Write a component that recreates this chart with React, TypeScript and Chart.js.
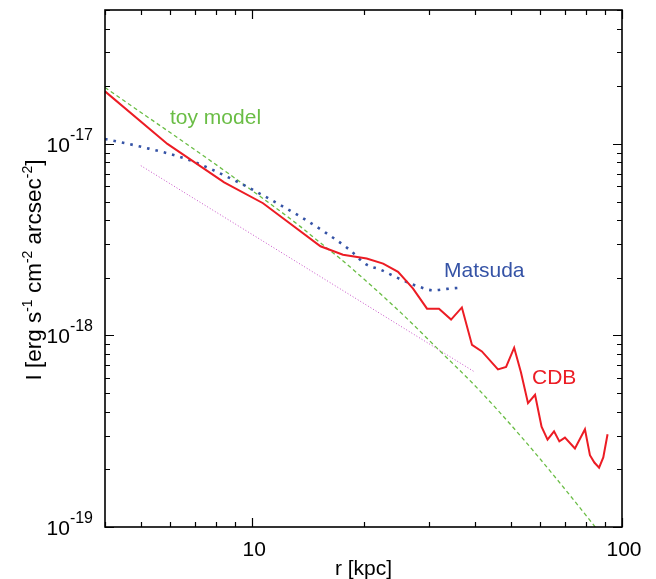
import React, { useEffect, useRef } from "react";
import { Chart, registerables } from "chart.js";
Chart.register(...registerables);

// ---- data ----
const cdbR = [4.0, 5.9, 8.4, 10.7, 15.3, 17.6, 20.4, 22.6, 24.8, 27.2, 29.7, 32.0, 34.5, 36.9, 39.3, 41.8, 46.2, 48.6, 51.1, 53.3, 55.7, 58.2, 60.6, 62.9, 65.5, 67.7, 70.1, 74.6, 79.4, 81.9, 84.2, 86.7, 89.0, 91.4];
const cdbI = [1.88e-17, 1.0e-17, 6.3e-18, 4.9e-18, 2.92e-18, 2.64e-18, 2.52e-18, 2.37e-18, 2.15e-18, 1.76e-18, 1.38e-18, 1.38e-18, 1.21e-18, 1.40e-18, 8.92e-19, 8.25e-19, 6.65e-19, 6.85e-19, 8.63e-19, 6.42e-19, 4.43e-19, 4.90e-19, 3.34e-19, 2.86e-19, 3.16e-19, 2.80e-19, 2.93e-19, 2.57e-19, 3.24e-19, 2.37e-19, 2.17e-19, 2.04e-19, 2.31e-19, 3.05e-19];

const matsudaR = [4.0, 4.98, 6.66, 9.09, 11.66, 13.48, 15.58, 18.3, 20.4, 22.18, 25.1, 28.4, 30.9, 33.6, 37.0];
const matsudaI = [1.06e-17, 9.68e-18, 8.32e-18, 6.36e-18, 4.91e-18, 4.18e-18, 3.5e-18, 2.81e-18, 2.34e-18, 2.21e-18, 1.97e-18, 1.79e-18, 1.72e-18, 1.75e-18, 1.78e-18];

const toyR = [4.0, 8.72, 13.48, 15.27, 17.29, 21.06, 25.39, 31.88, 40.5, 53.0, 66.6, 83.3, 86.0];
const toyI = [1.97e-17, 6.9e-18, 3.71e-18, 3.05e-18, 2.52e-18, 1.81e-18, 1.30e-18, 8.45e-19, 5.34e-19, 3.01e-19, 1.78e-19, 1.04e-19, 9.62e-20];

const powerR = [5.0, 40.0];
const powerI = [7.7e-18, 6.44e-19];

// ---- axes ----
const xMin = 4;
const xMax = 100;
const yMin = 1e-19;
const yMax = 5e-17;
const mantissas = [1, 2, 3, 4, 5, 6, 7, 8, 9];
const xDecades = [1, 10, 100];
const yDecades = [1e-19, 1e-18, 1e-17];
const xTickLabels = ["10", "100"];
const xTickLabelValues = [10, 100];
const yTickExponents = ["-19", "-18", "-17"];
const yTickLabelValues = [1e-19, 1e-18, 1e-17];

const FONT = '"Liberation Sans", Arial, Helvetica, sans-serif';
const RED = "#ec1c24";
const BLUE = "#3553a6";
const GREEN = "#6abd45";
const PINK = "#c750c7";

type Part = { t: string; sup?: boolean };

function drawRich(ctx: CanvasRenderingContext2D, parts: Part[], x: number, y: number, align: "left" | "center" | "right", size: number, supSize: number, supRise: number) {
  const widths = parts.map((p) => {
    ctx.font = `${p.sup ? supSize : size}px ${FONT}`;
    return ctx.measureText(p.t).width;
  });
  const total = widths.reduce((a, b) => a + b, 0);
  let cx = align === "left" ? x : align === "center" ? x - total / 2 : x - total;
  ctx.textAlign = "left";
  ctx.textBaseline = "alphabetic";
  parts.forEach((p, i) => {
    ctx.font = `${p.sup ? supSize : size}px ${FONT}`;
    ctx.fillText(p.t, cx, p.sup ? y - supRise : y);
    cx += widths[i];
  });
}

const overlay = {
  id: "overlay",
  afterDatasetsDraw(chart: any) {
    const { ctx, chartArea: a, scales } = chart;
    const xs = scales.x;
    const ys = scales.y;
    ctx.save();
    ctx.strokeStyle = "#000";
    ctx.fillStyle = "#000";
    // ticks (inside, all four sides)
    ctx.lineWidth = 1.2;
    ctx.beginPath();
    xDecades.forEach((d) => {
      mantissas.forEach((m) => {
        const v = d * m;
        if (v < xMin || v > xMax) return;
        const px = Math.round(xs.getPixelForValue(v)) + 0.5;
        const len = m === 1 ? 9 : 5;
        ctx.moveTo(px, a.bottom);
        ctx.lineTo(px, a.bottom - len);
        ctx.moveTo(px, a.top);
        ctx.lineTo(px, a.top + len);
      });
    });
    yDecades.forEach((d) => {
      mantissas.forEach((m) => {
        const v = d * m;
        if (v < yMin * 0.999 || v > yMax * 1.001) return;
        const py = Math.round(ys.getPixelForValue(v)) + 0.5;
        const len = m === 1 ? 9 : 5;
        ctx.moveTo(a.left, py);
        ctx.lineTo(a.left + len, py);
        ctx.moveTo(a.right, py);
        ctx.lineTo(a.right - len, py);
      });
    });
    ctx.stroke();
    // frame
    ctx.lineWidth = 1.6;
    ctx.strokeRect(a.left, a.top, a.right - a.left, a.bottom - a.top);

    // tick labels
    ctx.textBaseline = "alphabetic";
    ctx.textAlign = "center";
    ctx.font = `21px ${FONT}`;
    xTickLabels.forEach((t, i) => {
      ctx.fillText(t, xs.getPixelForValue(xTickLabelValues[i]) + 2, a.bottom + 29);
    });
    yTickExponents.forEach((e, i) => {
      const py = ys.getPixelForValue(yTickLabelValues[i]);
      drawRich(ctx, [{ t: "10" }, { t: e, sup: true }], a.left - 12, py + 8, "right", 21, 16, 12);
    });

    // axis titles
    drawRich(ctx, [{ t: "r [kpc]" }], (a.left + a.right) / 2, a.bottom + 48, "center", 21, 15, 0);
    ctx.save();
    ctx.translate(41, 270);
    ctx.rotate(-Math.PI / 2);
    drawRich(
      ctx,
      [
        { t: "I [erg s" },
        { t: "-1", sup: true },
        { t: " cm" },
        { t: "-2", sup: true },
        { t: " arcsec" },
        { t: "-2", sup: true },
        { t: "]" },
      ],
      0,
      0,
      "center",
      22.5,
      14,
      9
    );
    ctx.restore();

    // in-plot labels
    ctx.textAlign = "left";
    ctx.font = `21px ${FONT}`;
    ctx.fillStyle = GREEN;
    ctx.fillText("toy model", 170, 124);
    ctx.fillStyle = BLUE;
    ctx.fillText("Matsuda", 444, 277);
    ctx.fillStyle = RED;
    ctx.fillText("CDB", 532, 384);
    ctx.restore();
  },
};

function pts(xs: number[], ys: number[]) {
  return xs.map((x, i) => ({ x, y: ys[i] }));
}

export default function App() {
  const ref = useRef<HTMLCanvasElement | null>(null);
  useEffect(() => {
    if (!ref.current) return;
    const chart = new Chart(ref.current, {
      type: "scatter",
      data: {
        datasets: [
          {
            label: "CDB",
            data: pts(cdbR, cdbI),
            showLine: true,
            borderColor: RED,
            borderWidth: 2,
            pointRadius: 0,
            tension: 0,
          },
          {
            label: "Matsuda",
            data: pts(matsudaR, matsudaI),
            showLine: true,
            borderColor: BLUE,
            borderWidth: 2.6,
            borderDash: [2.6, 6],
            pointRadius: 0,
            cubicInterpolationMode: "monotone",
          },
          {
            label: "toy model",
            data: pts(toyR, toyI),
            showLine: true,
            borderColor: GREEN,
            borderWidth: 1.3,
            borderDash: [4, 3],
            pointRadius: 0,
            cubicInterpolationMode: "monotone",
          },
          {
            label: "power law",
            data: pts(powerR, powerI),
            showLine: true,
            borderColor: PINK,
            borderWidth: 1,
            borderDash: [1, 2],
            pointRadius: 0,
          },
        ],
      },
      options: {
        animation: false,
        responsive: false,
        maintainAspectRatio: false,
        devicePixelRatio: 1,
        layout: { padding: { left: 105, right: 34, top: 10, bottom: 52 } },
        plugins: { legend: { display: false }, tooltip: { enabled: false } },
        scales: {
          x: { type: "logarithmic", min: xMin, max: xMax, display: false },
          y: { type: "logarithmic", min: yMin, max: yMax, display: false },
        },
      },
      plugins: [overlay],
    });
    return () => chart.destroy();
  }, []);
  return (
    <div style={{ position: "absolute", left: 0, top: 0, width: 656, height: 579, background: "#fff" }}>
      <canvas ref={ref} width={656} height={579} style={{ width: 656, height: 579 }} />
    </div>
  );
}
